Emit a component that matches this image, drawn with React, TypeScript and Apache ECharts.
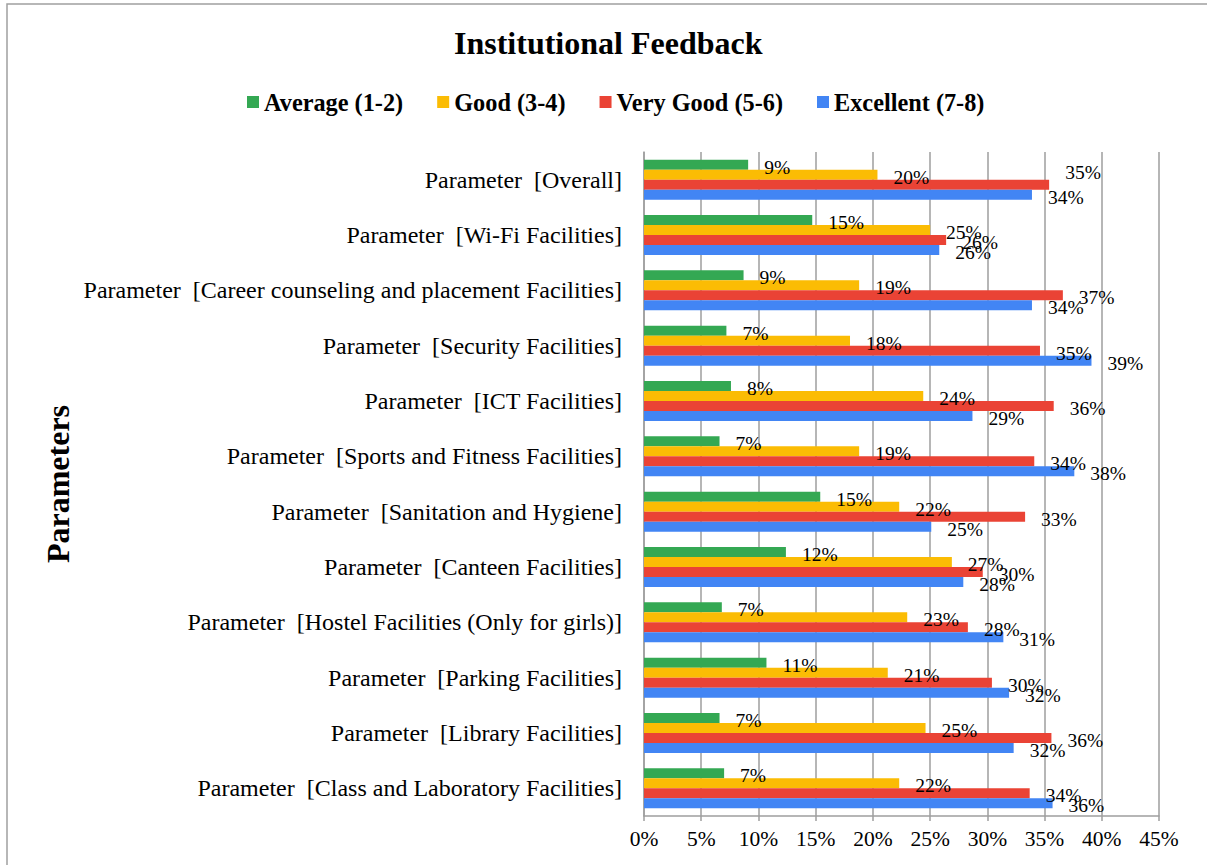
import React, { useEffect, useRef } from "react";
import * as echarts from "echarts";

const categories = [
  "Parameter  [Overall]",
  "Parameter  [Wi-Fi Facilities]",
  "Parameter  [Career counseling and placement Facilities]",
  "Parameter  [Security Facilities]",
  "Parameter  [ICT Facilities]",
  "Parameter  [Sports and Fitness Facilities]",
  "Parameter  [Sanitation and Hygiene]",
  "Parameter  [Canteen Facilities]",
  "Parameter  [Hostel Facilities (Only for girls)]",
  "Parameter  [Parking Facilities]",
  "Parameter  [Library Facilities]",
  "Parameter  [Class and Laboratory Facilities]",
];

const seriesNames = ["Average (1-2)", "Good (3-4)", "Very Good (5-6)", "Excellent (7-8)"];
const average = [9.1, 14.7, 8.7, 7.2, 7.6, 6.6, 15.4, 12.4, 6.8, 10.7, 6.6, 7.0];
const good = [20.4, 25.0, 18.8, 18.0, 24.4, 18.8, 22.3, 26.9, 23.0, 21.3, 24.6, 22.3];
const veryGood = [35.4, 26.4, 36.6, 34.6, 35.8, 34.1, 33.3, 29.6, 28.3, 30.4, 35.6, 33.7];
const excellent = [33.9, 25.8, 33.9, 39.1, 28.7, 37.6, 25.1, 27.9, 31.4, 31.9, 32.3, 35.7];
const colors = ["#34A853", "#FBBC04", "#EA4335", "#4285F4"];

const FONT = '"Liberation Serif", "Times New Roman", serif';

export default function App() {
  const ref = useRef<HTMLDivElement>(null);
  useEffect(() => {
    if (!ref.current) return;
    const chart = echarts.init(ref.current, null, { renderer: "svg" });
    const values = [average, good, veryGood, excellent];
    const series = values.map((arr, si) => ({
      name: seriesNames[si],
      type: "bar",
      barWidth: 10,
      barGap: "0%",
      itemStyle: { color: colors[si] },
      label: {
        show: true,
        position: "right",
        distance: 16,
        offset: [0, 2.5],
        color: "#000",
        fontFamily: FONT,
        fontSize: 19.5,
        formatter: (p: any) => Math.round(p.value) + "%",
      },
      data: arr.map((v, i) =>
        si === 2 && i === 0 ? { value: v, label: { offset: [0, -12] } } : v
      ),
    }));
    chart.setOption({
      animation: false,
      backgroundColor: "#fff",
      textStyle: { fontFamily: FONT },
      title: {
        text: "Institutional Feedback",
        left: 454,
        top: 27,
        padding: 0,
        textStyle: { fontFamily: FONT, fontWeight: "bold", fontSize: 32, color: "#000" },
      },
      legend: {
        data: seriesNames,
        left: 247,
        top: 90,
        padding: 0,
        itemWidth: 12,
        itemHeight: 12,
        itemGap: 34,
        icon: "rect",
        textStyle: { fontFamily: FONT, fontWeight: "bold", fontSize: 24.3, color: "#000", padding: [0, 0, 0, 0] },
      },
      grid: { left: 644, right: 48, top: 152, bottom: 49, containLabel: false },
      xAxis: {
        type: "value",
        min: 0,
        max: 45,
        interval: 5,
        axisLine: { show: true, lineStyle: { color: "#9e9e9e", width: 1.5 } },
        axisTick: { show: true, length: 5, lineStyle: { color: "#9e9e9e", width: 1.5 } },
        splitLine: { show: true, lineStyle: { color: "#9e9e9e", width: 1.5 } },
        axisLabel: {
          formatter: "{value}%",
          fontFamily: FONT,
          fontSize: 21.5,
          color: "#000",
          margin: 12,
        },
      },
      yAxis: {
        type: "category",
        inverse: true,
        data: categories,
        name: "Parameters",
        nameLocation: "middle",
        nameRotate: 90,
        nameGap: 570,
        nameTextStyle: { fontFamily: FONT, fontWeight: "bold", fontSize: 32, color: "#000" },
        axisLine: { show: true, lineStyle: { color: "#9e9e9e", width: 1.5 } },
        axisTick: { show: false },
        axisLabel: { fontFamily: FONT, fontSize: 24, color: "#000", margin: 22 },
      },
      graphic: [
        {
          type: "rect",
          shape: { x: 7, y: 4, width: 1400, height: 1000 },
          style: { fill: "none", stroke: "#a0a0a0", lineWidth: 1.5 },
          silent: true,
        },
      ],
      series,
    });
    return () => chart.dispose();
  }, []);
  return (
    <div
      ref={ref}
      style={{ position: "absolute", left: 0, top: 0, width: 1207, height: 865 }}
    />
  );
}
